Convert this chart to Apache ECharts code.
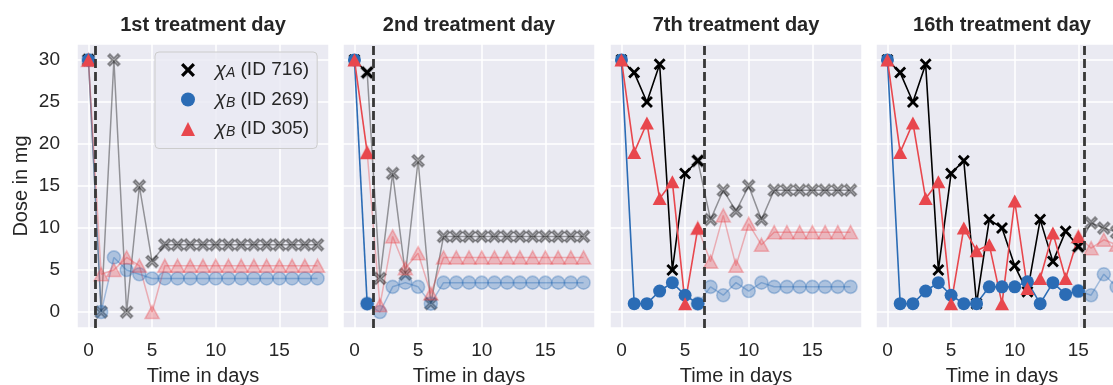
<!DOCTYPE html>
<html>
<head>
<meta charset="utf-8">
<script src="https://cdn.jsdelivr.net/npm/echarts@6/dist/echarts.min.js"></script>
<style>
  html, body { margin: 0; padding: 0; background: #fff; }
  #chart { width: 1113px; height: 385px; }
</style>
</head>
<body>
<div id="chart"></div>
<script>
// days 0..18, one row per panel (treatment day 1, 2, 7, 16)
var days = [0, 1, 2, 3, 4, 5, 6, 7, 8, 9, 10, 11, 12, 13, 14, 15, 16, 17, 18];
var panelTitles = ['1st treatment day', '2nd treatment day', '7th treatment day', '16th treatment day'];
var lastGiven = [0, 1, 6, 15];   // last day actually given, dashed line sits half a day later

var dose716 = [
  [30, 0, 30, 0, 15, 6, 8, 8, 8, 8, 8, 8, 8, 8, 8, 8, 8, 8, 8],
  [30, 28.5, 4, 16.5, 4.5, 18, 1, 9, 9, 9, 9, 9, 9, 9, 9, 9, 9, 9, 9],
  [30, 28.5, 25, 29.5, 5, 16.5, 18, 11, 14.5, 12, 15, 11, 14.5, 14.5, 14.5, 14.5, 14.5, 14.5, 14.5],
  [30, 28.5, 25, 29.5, 5, 16.5, 18, 1, 11, 10, 5.5, 2.4, 11, 6, 9.6, 7.8, 10.6, 10, 9.5]
];
var dose269 = [
  [30, 0, 6.5, 5, 4.5, 4, 4, 4, 4, 4, 4, 4, 4, 4, 4, 4, 4, 4, 4],
  [30, 1, 0, 3, 3.5, 3, 1, 3.5, 3.5, 3.5, 3.5, 3.5, 3.5, 3.5, 3.5, 3.5, 3.5, 3.5, 3.5],
  [30, 1, 1, 2.5, 3.5, 2, 1, 3, 2, 3.5, 2.5, 3.5, 3, 3, 3, 3, 3, 3, 3],
  [30, 1, 1, 2.5, 3.5, 2, 1, 1, 3, 3, 3, 3.6, 1, 3.5, 2.1, 2.5, 2, 4.5, 3]
];
var dose305 = [
  [30, 4.5, 5, 6.5, 5.5, 0, 5.5, 5.5, 5.5, 5.5, 5.5, 5.5, 5.5, 5.5, 5.5, 5.5, 5.5, 5.5, 5.5],
  [30, 19, 0.8, 9, 5.2, 7, 2.2, 6.5, 6.5, 6.5, 6.5, 6.5, 6.5, 6.5, 6.5, 6.5, 6.5, 6.5, 6.5],
  [30, 19, 22.5, 13.5, 15.5, 1, 10, 6, 11.5, 5.5, 10.5, 8, 9.5, 9.5, 9.5, 9.5, 9.5, 9.5, 9.5],
  [30, 19, 22.5, 13.5, 15.5, 1, 10, 7.3, 8, 1, 13.2, 2.8, 4, 9.4, 4, 9, 7.6, 8.6, 8]
];

var FONT = '"Liberation Sans", Arial, sans-serif';
var TXT = '#262626';
var xPath = 'path://M0,2L2,0L6,4L10,0L12,2L8,6L12,10L10,12L6,8L2,12L0,10L4,6Z';
var gridLefts = [77, 343, 610, 876];
var gridW = 252, gridTop = 44, gridH = 284;

var patients = [
  { id: '716', sub: 'A', vals: dose716, rgb: '0,0,0', symbol: xPath, size: 12 },
  { id: '269', sub: 'B', vals: dose269, rgb: '43,108,181', symbol: 'circle', size: 13 },
  { id: '305', sub: 'B', vals: dose305, rgb: '232,71,77', symbol: 'triangle', size: [14, 13] }
];

function pts(vals, from, to) {
  var out = [];
  for (var i = from; i <= to; i++) out.push([days[i], vals[i]]);
  return out;
}

var grids = [], xAxes = [], yAxes = [], series = [], texts = [];
gridLefts.forEach(function (left, p) {
  grids.push({ left: left, top: gridTop, width: gridW, height: gridH, show: true,
    outerBoundsMode: 'none', containLabel: false,
    backgroundColor: '#EAEAF2', borderWidth: 0 });
  xAxes.push({
    type: 'value', gridIndex: p, min: -0.9, max: 18.9, splitNumber: 4,
    axisLine: { show: false }, axisTick: { show: false },
    axisLabel: { showMinLabel: false, showMaxLabel: false, margin: 13,
      fontSize: 19, color: TXT, fontFamily: FONT },
    splitLine: { lineStyle: { color: '#fff', width: 1.5 } },
    name: 'Time in days', nameLocation: 'middle', nameGap: 38,
    nameTextStyle: { fontSize: 20, color: TXT, fontFamily: FONT }
  });
  yAxes.push({
    type: 'value', gridIndex: p, min: -1.9, max: 31.9, splitNumber: 6,
    axisLine: { show: false }, axisTick: { show: false },
    axisLabel: { show: p === 0, showMinLabel: false, showMaxLabel: false, margin: 17,
      fontSize: 19, color: TXT, fontFamily: FONT },
    splitLine: { lineStyle: { color: '#fff', width: 1.5 } },
    name: p === 0 ? 'Dose in mg' : '', nameLocation: 'middle', nameGap: 46,
    nameTextStyle: { fontSize: 20, color: TXT, fontFamily: FONT }
  });
  texts.push({
    type: 'text', x: left + gridW / 2, y: 25,
    style: { text: panelTitles[p], align: 'center', verticalAlign: 'middle',
      font: 'bold 20px ' + FONT, fill: TXT }
  });

  var cut = lastGiven[p];
  // predicted part (faded), drawn first
  patients.forEach(function (pt) {
    series.push({
      name: pt.id + ' predicted ' + p, type: 'line', xAxisIndex: p, yAxisIndex: p,
      data: pts(pt.vals[p], cut, 18), symbol: pt.symbol, symbolSize: pt.size,
      showSymbol: true, z: 2, silent: true,
      lineStyle: { color: 'rgba(' + pt.rgb + ',0.38)', width: 1.5 },
      itemStyle: { color: 'rgba(' + pt.rgb + ',0.32)', borderColor: 'rgba(' + pt.rgb + ',0.32)', borderWidth: 1.6 }
    });
  });
  // doses already given
  patients.forEach(function (pt) {
    series.push({
      name: p === 0 ? pt.id : pt.id + ' given ' + p, type: 'line', xAxisIndex: p, yAxisIndex: p,
      data: pts(pt.vals[p], 0, cut), symbol: pt.symbol, symbolSize: pt.size,
      showSymbol: true, z: 3, silent: true,
      lineStyle: { color: 'rgb(' + pt.rgb + ')', width: 1.6 },
      itemStyle: { color: 'rgb(' + pt.rgb + ')', borderWidth: 0 }
    });
  });
  // dashed "today" marker
  series.push({
    name: 'today ' + p, type: 'line', xAxisIndex: p, yAxisIndex: p, data: [], z: 10,
    markLine: {
      silent: true, symbol: ['none', 'none'], label: { show: false },
      lineStyle: { color: '#383838', width: 2.8, type: [9, 4] },
      data: [{ xAxis: cut + 0.5 }]
    }
  });
});

var chart = echarts.init(document.getElementById('chart'));
chart.setOption({
  animation: false,
  textStyle: { fontFamily: FONT },
  grid: grids, xAxis: xAxes, yAxis: yAxes, series: series,
  graphic: texts,
  legend: {
    left: 155, top: 52, orient: 'vertical',
    padding: [8, 8, 9, 26], itemGap: 9, itemWidth: 14, itemHeight: 14,
    backgroundColor: 'rgba(234,234,242,0.8)', borderColor: '#cccccc', borderWidth: 1, borderRadius: 4,
    selectedMode: false,
    data: patients.map(function (pt) {
      return { name: pt.id, icon: pt.symbol, itemStyle: { color: 'rgb(' + pt.rgb + ')', borderWidth: 0 } };
    }),
    formatter: function (name) {
      var pt = patients.filter(function (q) { return q.id === name; })[0];
      return '{g|χ}{s|' + pt.sub + '}{t| (ID ' + name + ')}';
    },
    textStyle: {
      color: TXT, fontSize: 19, fontFamily: FONT,
      rich: {
        g: { fontSize: 20, fontStyle: 'italic', fontFamily: FONT, color: TXT, padding: [0, 0, 0, 15], lineHeight: 20 },
        s: { fontSize: 14, fontStyle: 'italic', fontFamily: FONT, color: TXT, verticalAlign: 'bottom', padding: [7, 0, 0, 0] },
        t: { fontSize: 19, fontFamily: FONT, color: TXT, lineHeight: 20 }
      }
    }
  }
});
window.addEventListener('resize', function () { chart.resize(); });
</script>
</body>
</html>
